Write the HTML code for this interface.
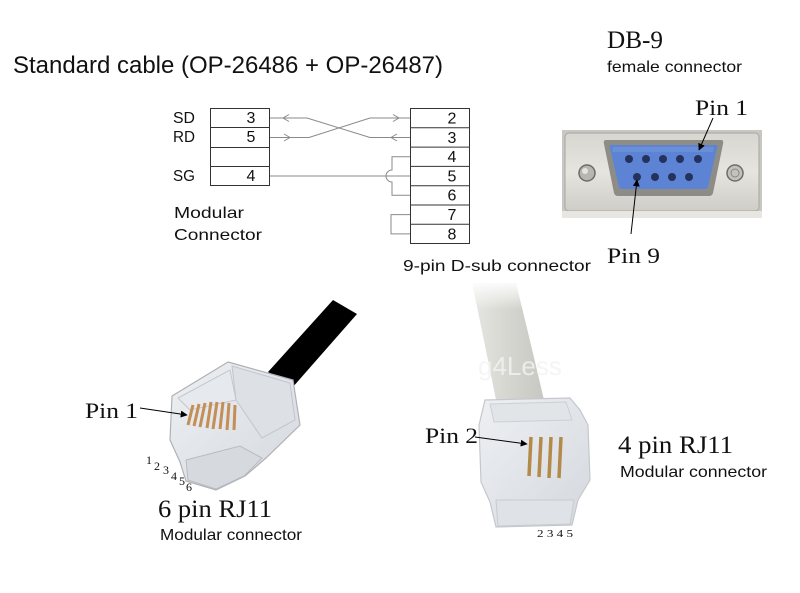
<!DOCTYPE html>
<html><head><meta charset="utf-8"><style>
html,body{margin:0;padding:0;background:#fff;}
svg{display:block;}
.s{font-family:"Liberation Sans",Arial,sans-serif;}
.r{font-family:"Liberation Serif","Times New Roman",serif;}
</style></head><body>
<svg width="800" height="593" viewBox="0 0 800 593" xmlns="http://www.w3.org/2000/svg">
<defs>
<marker id="ah" viewBox="0 0 10 10" refX="9" refY="5" markerWidth="7" markerHeight="7" orient="auto" markerUnits="userSpaceOnUse">
<path d="M0,0 L10,5 L0,10 z" fill="#000"/></marker>
<linearGradient id="cab" x1="0" y1="0" x2="1" y2="0">
<stop offset="0" stop-color="#e6e6e2"/><stop offset="0.5" stop-color="#d6d6d0"/><stop offset="1" stop-color="#c8c8c2"/></linearGradient>
<linearGradient id="fade" x1="0" y1="0" x2="0" y2="1">
<stop offset="0" stop-color="#fff" stop-opacity="1"/><stop offset="1" stop-color="#fff" stop-opacity="0"/></linearGradient>
<linearGradient id="plate" x1="0" y1="0" x2="0" y2="1">
<stop offset="0" stop-color="#d8d6d0"/><stop offset="0.5" stop-color="#e6e4de"/><stop offset="1" stop-color="#cfcdc7"/></linearGradient>
<linearGradient id="plug" x1="0" y1="0" x2="1" y2="1">
<stop offset="0" stop-color="#eef0f3"/><stop offset="1" stop-color="#d4d8de"/></linearGradient>
</defs>

<text class="s" x="13" y="73" font-size="24" textLength="430" lengthAdjust="spacingAndGlyphs" fill="#111">Standard cable (OP-26486 + OP-26487)</text>

<g stroke="#333" stroke-width="1" fill="none">
<rect x="210.5" y="108.5" width="59" height="77"/>
<line x1="210.5" y1="127.5" x2="269.5" y2="127.5"/>
<line x1="210.5" y1="147.5" x2="269.5" y2="147.5"/>
<line x1="210.5" y1="166.5" x2="269.5" y2="166.5"/>
</g>
<g class="s" font-size="16" fill="#111">
<text x="173" y="123" textLength="22" lengthAdjust="spacingAndGlyphs">SD</text>
<text x="173" y="142" textLength="22" lengthAdjust="spacingAndGlyphs">RD</text>
<text x="173" y="181" textLength="22" lengthAdjust="spacingAndGlyphs">SG</text>
<text x="251" y="123" text-anchor="middle">3</text>
<text x="251" y="142" text-anchor="middle">5</text>
<text x="251" y="181" text-anchor="middle">4</text>
<text x="174" y="218" textLength="70" lengthAdjust="spacingAndGlyphs">Modular</text>
<text x="174" y="240" textLength="88" lengthAdjust="spacingAndGlyphs">Connector</text>
</g>

<g stroke="#333" stroke-width="1" fill="none">
<rect x="410.5" y="108.5" width="59" height="135"/>
<line x1="410.5" y1="127.8" x2="469.5" y2="127.8"/>
<line x1="410.5" y1="147.1" x2="469.5" y2="147.1"/>
<line x1="410.5" y1="166.4" x2="469.5" y2="166.4"/>
<line x1="410.5" y1="185.7" x2="469.5" y2="185.7"/>
<line x1="410.5" y1="205" x2="469.5" y2="205"/>
<line x1="410.5" y1="224.3" x2="469.5" y2="224.3"/>
</g>
<g class="s" font-size="16" fill="#111" text-anchor="middle">
<text x="452" y="123.5">2</text>
<text x="452" y="142.8">3</text>
<text x="452" y="162.1">4</text>
<text x="452" y="181.4">5</text>
<text x="452" y="200.7">6</text>
<text x="452" y="220">7</text>
<text x="452" y="239.3">8</text>
</g>
<text class="s" x="403" y="271" font-size="16" textLength="188" lengthAdjust="spacingAndGlyphs" fill="#111">9-pin D-sub connector</text>

<g stroke="#8a8a8a" stroke-width="1" fill="none">
<polyline points="270,118 307,118 370,137.5 410,137.5"/>
<polyline points="270,137.5 309,137.5 370,118 410,118"/>
<line x1="270" y1="176" x2="410" y2="176"/>
<path d="M410,156.8 H392 V170 A6,6 0 0 0 392,182 V195.3 H410"/>
<path d="M410,214.6 H391 V233.9 H410"/>
<polyline points="289,114.5 283,118 289,121.5"/>
<polyline points="397,134 391,137.5 397,141"/>
<polyline points="284,134 290,137.5 284,141"/>
<polyline points="393,114.5 399,118 393,121.5"/>
</g>

<text class="r" x="607" y="48" font-size="25" textLength="56" lengthAdjust="spacingAndGlyphs" fill="#111">DB-9</text>
<text class="s" x="607" y="72" font-size="16" textLength="135" lengthAdjust="spacingAndGlyphs" fill="#111">female connector</text>
<text class="r" x="695" y="115" font-size="22" textLength="53" lengthAdjust="spacingAndGlyphs" fill="#111">Pin 1</text>
<text class="r" x="607" y="263" font-size="22" textLength="53" lengthAdjust="spacingAndGlyphs" fill="#111">Pin 9</text>

<rect x="562" y="130" width="200" height="88" fill="#c9c7c1"/>
<rect x="565" y="133" width="194" height="78" rx="4" fill="url(#plate)" stroke="#a9a7a1"/>
<rect x="562" y="211" width="200" height="7" fill="#e8e6e0"/>
<path d="M606,140 L721,140 Q724,140 723,144 L713,193 Q712,196 709,196 L618,196 Q615,196 614,193 L604,144 Q603,140 606,140 z" fill="#8e8c86"/>
<path d="M611,145 L716,145 Q718,145 717,148 L708,187 Q707,189 705,189 L622,189 Q620,189 619,187 L610,148 Q609,145 611,145 z" fill="#5d84d4"/>
<path d="M613,147 L714,147 L713,152 L612,152 z" fill="#7396dc" opacity="0.6"/>
<g fill="#26325e">
<circle cx="629" cy="159" r="4"/><circle cx="646" cy="159" r="4"/><circle cx="663" cy="159" r="4"/><circle cx="680" cy="159" r="4"/><circle cx="698" cy="159" r="4"/>
<circle cx="637" cy="177" r="4"/><circle cx="655" cy="177" r="4"/><circle cx="672" cy="177" r="4"/><circle cx="689" cy="177" r="4"/>
</g>
<circle cx="587" cy="173" r="8" fill="#b8b6b0" stroke="#6e6c66" stroke-width="1.5"/>
<circle cx="585" cy="171" r="3" fill="#e6e4de"/>
<circle cx="735" cy="173" r="8" fill="#c4c2bc" stroke="#6e6c66" stroke-width="1.5"/>
<circle cx="735" cy="173" r="4" fill="none" stroke="#8a8882"/>
<line x1="713" y1="118" x2="699" y2="150" stroke="#000" stroke-width="1" marker-end="url(#ah)"/>
<line x1="631" y1="234" x2="637" y2="180" stroke="#000" stroke-width="1" marker-end="url(#ah)"/>

<polygon points="333,300 357,314 292,388 268,372" fill="#000"/>
<polygon points="228,362 293,380 300,425 266,458 245,476 216,490 186,481 180,462 170,440 172,396" fill="url(#plug)" stroke="#aeb2b8" stroke-width="1.2"/>
<polygon points="232,366 290,383 295,420 262,438 236,400" fill="#dde0e5" stroke="#c2c6cc"/>
<polygon points="178,398 230,370 236,400 190,410" fill="#e6e9ee" stroke="#c4c8ce"/>
<polygon points="186,460 240,446 262,458 244,476 216,489 188,480" fill="#d6d9de" stroke="#b8bcc2"/>
<g stroke="#c48e58" stroke-width="3">
<line x1="193" y1="405" x2="188" y2="425"/>
<line x1="199" y1="404" x2="194" y2="426"/>
<line x1="205" y1="403" x2="200" y2="427"/>
<line x1="211" y1="402" x2="207" y2="428"/>
<line x1="217" y1="402" x2="213" y2="429"/>
<line x1="223" y1="402" x2="220" y2="429"/>
<line x1="229" y1="403" x2="227" y2="430"/>
<line x1="235" y1="405" x2="234" y2="430"/>
</g>
<line x1="140" y1="408" x2="187" y2="415" stroke="#000" stroke-width="1" marker-end="url(#ah)"/>
<text class="r" x="85" y="418" font-size="22" textLength="53" lengthAdjust="spacingAndGlyphs" fill="#111">Pin 1</text>
<g class="r" font-size="12" fill="#111">
<text x="146" y="464">1</text><text x="154" y="470">2</text><text x="163" y="474">3</text><text x="171" y="480">4</text><text x="179" y="485">5</text><text x="186" y="491">6</text>
</g>
<text class="r" x="158" y="517" font-size="25" textLength="114" lengthAdjust="spacingAndGlyphs" fill="#111">6 pin RJ11</text>
<text class="s" x="160" y="540" font-size="16" textLength="142" lengthAdjust="spacingAndGlyphs" fill="#111">Modular connector</text>

<path d="M472,283 L516,283 Q530,340 544,400 L496,400 Q484,340 472,283 z" fill="url(#cab)"/>
<rect x="465" y="280" width="90" height="30" fill="url(#fade)"/>
<text class="s" x="478" y="375" font-size="26" fill="#f3f3f3" opacity="0.8">g4Less</text>
<polygon points="485,400 570,398 580,410 588,425 590,480 578,500 572,525 496,527 490,502 481,482 479,425" fill="url(#plug)" stroke="#c4c8cc" stroke-width="1.2"/>
<polygon points="490,404 566,402 572,420 494,422" fill="#e2e5e8" stroke="#ccd0d4"/>
<polygon points="496,500 574,500 570,524 498,526" fill="#dfe2e6" stroke="#c8ccd0"/>
<g stroke="#b48a48" stroke-width="3.5">
<line x1="531" y1="437" x2="529" y2="476"/>
<line x1="541" y1="437" x2="539" y2="477"/>
<line x1="551" y1="437" x2="549" y2="478"/>
<line x1="561" y1="437" x2="559" y2="478"/>
</g>
<line x1="475" y1="437" x2="527" y2="444" stroke="#000" stroke-width="1" marker-end="url(#ah)"/>
<text class="r" x="425" y="443" font-size="22" textLength="53" lengthAdjust="spacingAndGlyphs" fill="#111">Pin 2</text>
<text class="r" x="618" y="453" font-size="25" textLength="115" lengthAdjust="spacingAndGlyphs" fill="#111">4 pin RJ11</text>
<text class="s" x="620" y="477" font-size="16" textLength="147" lengthAdjust="spacingAndGlyphs" fill="#111">Modular connector</text>
<text class="r" x="537" y="537" font-size="11" textLength="36" lengthAdjust="spacingAndGlyphs" fill="#111">2 3 4 5</text>
</svg>
</body></html>
